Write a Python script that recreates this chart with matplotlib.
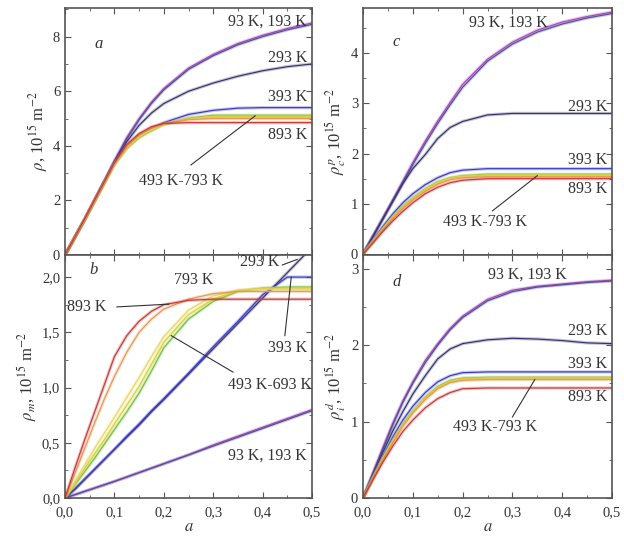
import matplotlib
matplotlib.use("Agg")
import matplotlib.pyplot as plt
from matplotlib.ticker import FuncFormatter, MultipleLocator

plt.rcParams['font.family'] = ['Liberation Serif', 'DejaVu Serif']
plt.rcParams['mathtext.fontset'] = 'stix'

# strain grid (a) shared by all curves
strain = [0, 0.02, 0.04, 0.06, 0.08, 0.1, 0.125, 0.15, 0.175, 0.2, 0.25, 0.3, 0.35, 0.4, 0.45, 0.5]

# panel a: total dislocation density
a_93 = [0, 0.65, 1.32, 2.02, 2.72, 3.45, 4.3, 5.0, 5.6, 6.1, 6.85, 7.35, 7.75, 8.05, 8.3, 8.5]
a_193 = [0, 0.65, 1.3, 2.0, 2.7, 3.42, 4.25, 4.95, 5.55, 6.05, 6.8, 7.3, 7.7, 8.0, 8.25, 8.45]
a_293 = [0, 0.65, 1.3, 2.0, 2.7, 3.4, 4.15, 4.75, 5.2, 5.55, 6.0, 6.3, 6.55, 6.75, 6.9, 7.0]
a_393 = [0, 0.65, 1.3, 2.0, 2.68, 3.35, 3.95, 4.35, 4.62, 4.85, 5.15, 5.3, 5.38, 5.4, 5.4, 5.4]
a_493 = [0, 0.64, 1.28, 1.95, 2.62, 3.3, 3.9, 4.3, 4.55, 4.78, 5.02, 5.12, 5.12, 5.12, 5.12, 5.12]
a_593 = [0, 0.64, 1.28, 1.96, 2.64, 3.32, 3.92, 4.32, 4.58, 4.78, 5.0, 5.08, 5.08, 5.08, 5.08, 5.08]
a_693 = [0, 0.65, 1.3, 1.98, 2.66, 3.34, 3.95, 4.36, 4.6, 4.8, 4.98, 5.04, 5.04, 5.04, 5.04, 5.04]
a_793 = [0, 0.65, 1.31, 2.0, 2.68, 3.36, 3.98, 4.4, 4.65, 4.82, 4.96, 5.0, 5.0, 5.0, 5.0, 5.0]
a_893 = [0, 0.66, 1.33, 2.02, 2.7, 3.38, 4.05, 4.45, 4.7, 4.82, 4.85, 4.85, 4.85, 4.85, 4.85, 4.85]

# panel b
b_93 = [0, 0.03, 0.06, 0.09, 0.12, 0.15, 0.19, 0.23, 0.27, 0.31, 0.39, 0.48, 0.56, 0.64, 0.72, 0.8]
b_193 = [0, 0.03, 0.06, 0.09, 0.12, 0.15, 0.19, 0.23, 0.27, 0.31, 0.39, 0.47, 0.55, 0.63, 0.71, 0.79]
b_293 = [0, 0.08, 0.17, 0.26, 0.35, 0.44, 0.55, 0.66, 0.78, 0.89, 1.12, 1.35, 1.58, 1.81, 2.04, 2.27]
b_393 = [0, 0.08, 0.17, 0.26, 0.35, 0.44, 0.56, 0.67, 0.79, 0.9, 1.13, 1.37, 1.6, 1.84, 2.0, 2.0]
b_493 = [0, 0.12, 0.24, 0.36, 0.49, 0.62, 0.78, 0.95, 1.15, 1.36, 1.62, 1.78, 1.87, 1.9, 1.91, 1.91]
b_593 = [0, 0.13, 0.27, 0.4, 0.53, 0.67, 0.84, 1.01, 1.21, 1.41, 1.66, 1.8, 1.88, 1.9, 1.9, 1.9]
b_693 = [0, 0.15, 0.3, 0.45, 0.59, 0.73, 0.91, 1.09, 1.28, 1.46, 1.7, 1.83, 1.88, 1.89, 1.89, 1.89]
b_793 = [0, 0.22, 0.45, 0.68, 0.9, 1.1, 1.32, 1.5, 1.62, 1.71, 1.8, 1.85, 1.87, 1.87, 1.87, 1.87]
b_893 = [0, 0.27, 0.53, 0.78, 1.03, 1.28, 1.47, 1.6, 1.69, 1.75, 1.79, 1.8, 1.8, 1.8, 1.8, 1.8]

# panel c
c_93 = [0, 0.36, 0.72, 1.08, 1.45, 1.82, 2.25, 2.65, 3.02, 3.38, 3.88, 4.22, 4.46, 4.62, 4.73, 4.82]
c_193 = [0, 0.35, 0.7, 1.06, 1.42, 1.78, 2.2, 2.6, 2.97, 3.32, 3.84, 4.18, 4.42, 4.58, 4.7, 4.79]
c_293 = [0, 0.35, 0.7, 1.05, 1.4, 1.7, 1.98, 2.3, 2.52, 2.64, 2.77, 2.8, 2.8, 2.8, 2.8, 2.8]
c_393 = [0, 0.28, 0.55, 0.8, 1.02, 1.2, 1.38, 1.52, 1.62, 1.67, 1.7, 1.7, 1.7, 1.7, 1.7, 1.7]
c_493 = [0, 0.26, 0.51, 0.75, 0.95, 1.12, 1.3, 1.44, 1.52, 1.56, 1.59, 1.59, 1.59, 1.59, 1.59, 1.59]
c_593 = [0, 0.25, 0.5, 0.74, 0.94, 1.11, 1.29, 1.43, 1.51, 1.55, 1.57, 1.57, 1.57, 1.57, 1.57, 1.57]
c_693 = [0, 0.25, 0.49, 0.72, 0.92, 1.09, 1.27, 1.41, 1.5, 1.54, 1.56, 1.56, 1.56, 1.56, 1.56, 1.56]
c_793 = [0, 0.24, 0.48, 0.71, 0.91, 1.08, 1.25, 1.39, 1.48, 1.52, 1.54, 1.54, 1.54, 1.54, 1.54, 1.54]
c_893 = [0, 0.22, 0.45, 0.66, 0.85, 1.02, 1.2, 1.33, 1.42, 1.47, 1.5, 1.5, 1.5, 1.5, 1.5, 1.5]

# panel d
d_93 = [0, 0.33, 0.66, 0.98, 1.27, 1.52, 1.8, 2.02, 2.22, 2.38, 2.6, 2.72, 2.77, 2.8, 2.83, 2.85]
d_193 = [0, 0.32, 0.64, 0.96, 1.25, 1.5, 1.77, 2.0, 2.2, 2.36, 2.58, 2.7, 2.76, 2.79, 2.82, 2.84]
d_293 = [0, 0.3, 0.6, 0.88, 1.13, 1.36, 1.6, 1.82, 1.95, 2.02, 2.07, 2.09, 2.08, 2.06, 2.03, 2.02]
d_393 = [0, 0.28, 0.55, 0.8, 1.02, 1.2, 1.38, 1.52, 1.6, 1.64, 1.65, 1.65, 1.65, 1.65, 1.65, 1.65]
d_493 = [0, 0.27, 0.53, 0.76, 0.97, 1.14, 1.32, 1.46, 1.54, 1.57, 1.58, 1.58, 1.58, 1.58, 1.58, 1.58]
d_593 = [0, 0.26, 0.52, 0.75, 0.96, 1.13, 1.31, 1.45, 1.53, 1.56, 1.57, 1.57, 1.57, 1.57, 1.57, 1.57]
d_693 = [0, 0.26, 0.51, 0.74, 0.95, 1.12, 1.3, 1.44, 1.52, 1.55, 1.56, 1.56, 1.56, 1.56, 1.56, 1.56]
d_793 = [0, 0.25, 0.5, 0.73, 0.94, 1.11, 1.29, 1.43, 1.51, 1.54, 1.55, 1.55, 1.55, 1.55, 1.55, 1.55]
d_893 = [0, 0.24, 0.47, 0.68, 0.87, 1.02, 1.18, 1.3, 1.38, 1.43, 1.44, 1.44, 1.44, 1.44, 1.44, 1.44]

temps = [93, 193, 293, 393, 493, 593, 693, 793, 893]
colors = {93: '#b848b8', 193: '#5050a0', 293: '#33336e', 393: '#3a3ac8',
          493: '#70c040', 593: '#d8d030', 693: '#e8d860', 793: '#e89850', 893: '#c83838'}

panels = {
    'a': [a_93, a_193, a_293, a_393, a_493, a_593, a_693, a_793, a_893],
    'b': [b_93, b_193, b_293, b_393, b_493, b_593, b_693, b_793, b_893],
    'c': [c_93, c_193, c_293, c_393, c_493, c_593, c_693, c_793, c_893],
    'd': [d_93, d_193, d_293, d_393, d_493, d_593, d_693, d_793, d_893],
}

W, H = 624, 541
boxes = {  # left, top, right, bottom in pixels
    'a': (65, 8, 312, 255),
    'b': (65, 255, 312, 498),
    'c': (363, 8, 612, 255),
    'd': (363, 255, 612, 498),
}
ylims = {'a': (0, 9.05), 'b': (0, 2.2), 'c': (-0.02, 4.9), 'd': (0, 3.18)}
ymajor = {'a': 2, 'b': 0.5, 'c': 1, 'd': 1}
yminor = {'a': 1, 'b': 0.25, 'c': 0.5, 'd': 0.5}
ylabels = {
    'a': r'$\rho$, 10$^{15}$ m$^{-2}$',
    'b': r'$\rho_m$, 10$^{15}$ m$^{-2}$',
    'c': r'$\rho_c^p$, 10$^{15}$ m$^{-2}$',
    'd': r'$\rho_i^d$, 10$^{15}$ m$^{-2}$',
}

comma1 = FuncFormatter(lambda v, p: f"{v:.1f}".replace('.', ','))
intfmt = FuncFormatter(lambda v, p: f"{v:.0f}")
txt = '#333333'

fig = plt.figure(figsize=(W / 100, H / 100), dpi=100)
axes = {}
for key, (l, t, r, b) in boxes.items():
    ax = fig.add_axes([l / W, 1 - b / H, (r - l) / W, (b - t) / H])
    axes[key] = ax
    for T, y in zip(temps, panels[key]):
        ax.plot(strain, y, color=colors[T], lw=2.4, alpha=0.28, solid_capstyle='round')
        ax.plot(strain, y, color=colors[T], lw=0.85)
    ax.set_xlim(0, 0.5)
    ax.set_ylim(*ylims[key])
    ax.xaxis.set_major_locator(MultipleLocator(0.1))
    ax.xaxis.set_minor_locator(MultipleLocator(0.05))
    ax.yaxis.set_major_locator(MultipleLocator(ymajor[key]))
    ax.yaxis.set_minor_locator(MultipleLocator(yminor[key]))
    ax.tick_params(which='both', direction='in', top=True, right=True, colors='#555555',
                   labelcolor=txt, labelsize=10.5)
    ax.tick_params(which='major', length=4)
    ax.tick_params(which='minor', length=2)
    ax.tick_params(axis='x', pad=6)
    for s in ax.spines.values():
        s.set_color('#555555')
        s.set_linewidth(1.2)
    ax.xaxis.set_major_formatter(comma1)
    ax.yaxis.set_major_formatter(comma1 if key == 'b' else intfmt)
    if key in ('a', 'c'):
        ax.tick_params(labelbottom=False)
    else:
        ax.set_xlabel(r'$a$', fontsize=12, color=txt, labelpad=0)
    ax.set_ylabel(ylabels[key], fontsize=12, color=txt, labelpad=2)
    ax.text(0.06 if key != 'b' else 0.05, {'a': 7.6, 'b': 2.03, 'c': 4.15, 'd': 2.77}[key],
            key, fontsize=12, style='italic', color=txt)

fs = 11.5

def lab(ax, x, y, s, ha='left'):
    ax.text(x, y, s, fontsize=fs, color=txt, ha=ha, va='center')

def ptr(ax, x0, y0, x1, y1):
    ax.plot([x0, x1], [y0, y1], color='#333333', lw=0.8)

ax = axes['a']
lab(ax, 0.49, 8.55, '93 K, 193 K', 'right')
lab(ax, 0.49, 7.2, '293 K', 'right')
lab(ax, 0.49, 5.8, '393 K', 'right')
lab(ax, 0.49, 4.4, '893 K', 'right')
lab(ax, 0.15, 2.7, '493 K-793 K')
ptr(ax, 0.255, 3.3, 0.385, 5.1)

ax = axes['b']
lab(ax, 0.22, 1.97, '793 K')
lab(ax, 0.005, 1.73, '893 K')
ptr(ax, 0.105, 1.73, 0.21, 1.755)
lab(ax, 0.355, 2.14, '293 K')
ptr(ax, 0.44, 2.11, 0.47, 2.16)
lab(ax, 0.49, 1.36, '393 K', 'right')
ptr(ax, 0.445, 1.47, 0.458, 2.0)
lab(ax, 0.5, 1.02, '493 K-693 K', 'right')
ptr(ax, 0.34, 1.14, 0.215, 1.47)
lab(ax, 0.49, 0.38, '93 K, 193 K', 'right')

ax = axes['c']
lab(ax, 0.37, 4.6, '93 K, 193 K', 'right')
lab(ax, 0.49, 2.93, '293 K', 'right')
lab(ax, 0.49, 1.87, '393 K', 'right')
lab(ax, 0.49, 1.3, '893 K', 'right')
lab(ax, 0.16, 0.64, '493 K-793 K')
ptr(ax, 0.26, 0.86, 0.35, 1.56)

ax = axes['d']
lab(ax, 0.41, 2.92, '93 K, 193 K', 'right')
lab(ax, 0.49, 2.18, '293 K', 'right')
lab(ax, 0.49, 1.76, '393 K', 'right')
lab(ax, 0.49, 1.32, '893 K', 'right')
lab(ax, 0.18, 0.93, '493 K-793 K')
ptr(ax, 0.3, 1.06, 0.345, 1.55)

fig.savefig('out.png', dpi=100)
